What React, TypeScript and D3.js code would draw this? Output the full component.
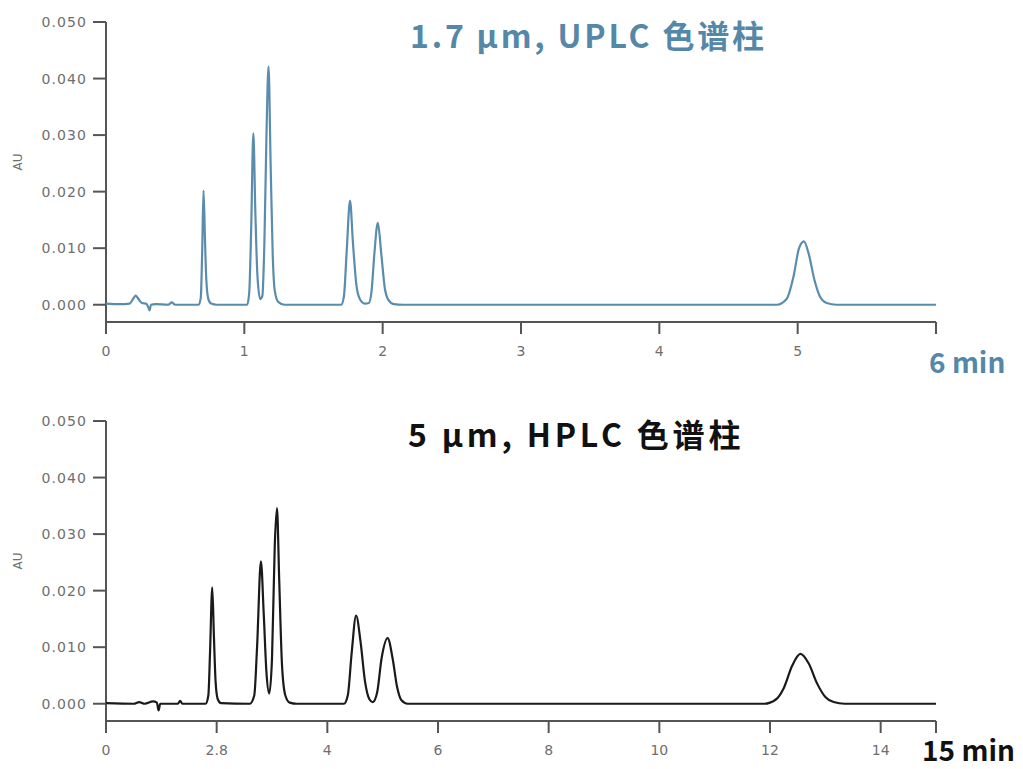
import React from 'react'
import * as d3 from 'd3'

// UPLC trace (min, AU)
const uplcTrace: [number, number][] = [
    [0.0, 0.0002], [0.1, 0.0001], [0.17, 0.0002], [0.2, 0.0012], [0.215, 0.0016],
    [0.235, 0.001], [0.26, 0.0003], [0.29, 0.0002], [0.305, -0.0004], [0.315, -0.001],
    [0.325, 0.0], [0.36, 0.0001], [0.45, 0.0], [0.475, 0.0004], [0.5, 0.0],
    [0.67, 0.0], [0.685, 0.0012], [0.695, 0.009], [0.705, 0.0202], [0.715, 0.012],
    [0.725, 0.0045], [0.74, 0.001], [0.76, 0.0002], [0.8, 0.0],
    [1.02, 0.0], [1.035, 0.002], [1.05, 0.014], [1.065, 0.0303], [1.08, 0.016],
    [1.095, 0.005], [1.115, 0.001], [1.13, 0.0015], [1.145, 0.011], [1.16, 0.03],
    [1.175, 0.0421], [1.19, 0.025], [1.205, 0.009], [1.22, 0.0025], [1.245, 0.0005],
    [1.29, 0.0], [1.7, 0.0], [1.72, 0.0015], [1.74, 0.0095], [1.764, 0.0184],
    [1.785, 0.011], [1.81, 0.0035], [1.835, 0.001], [1.87, 0.0002], [1.9, 0.0003],
    [1.92, 0.0025], [1.94, 0.009], [1.965, 0.0145], [1.99, 0.009], [2.015, 0.003],
    [2.04, 0.0009], [2.08, 0.0001], [2.15, 0.0], [4.85, 0.0], [4.92, 0.001],
    [4.97, 0.005], [5.01, 0.01], [5.045, 0.0112], [5.08, 0.009], [5.12, 0.0045],
    [5.16, 0.0015], [5.21, 0.0003], [5.28, 0.0], [6.0, 0.0],
]

// HPLC trace (min, AU)
const hplcTrace: [number, number][] = [
    [0.0, 0.0001], [0.5, 0.0], [0.6, 0.0003], [0.7, 0.0], [0.85, 0.0004],
    [0.92, 0.0002], [0.95, -0.0012], [0.98, 0.0], [1.3, 0.0], [1.34, 0.0005],
    [1.38, 0.0], [1.8, 0.0], [1.85, 0.0015], [1.88, 0.009], [1.92, 0.0206],
    [1.95, 0.012], [1.98, 0.004], [2.02, 0.0008], [2.08, 0.0001], [2.6, 0.0],
    [2.68, 0.0015], [2.73, 0.01], [2.8, 0.0252], [2.85, 0.016], [2.9, 0.0055],
    [2.95, 0.0018], [3.0, 0.008], [3.05, 0.028], [3.09, 0.0346], [3.13, 0.022],
    [3.18, 0.007], [3.24, 0.0015], [3.32, 0.0002], [3.45, 0.0], [4.3, 0.0],
    [4.37, 0.0015], [4.44, 0.009], [4.52, 0.0156], [4.6, 0.011], [4.68, 0.004],
    [4.76, 0.0008], [4.82, 0.0003], [4.9, 0.002], [4.98, 0.008], [5.09, 0.0116],
    [5.18, 0.008], [5.26, 0.003], [5.34, 0.0006], [5.45, 0.0], [11.9, 0.0],
    [12.1, 0.0007], [12.25, 0.0028], [12.4, 0.0067], [12.55, 0.0088], [12.7, 0.0071],
    [12.85, 0.0036], [13.0, 0.0012], [13.15, 0.0003], [13.35, 0.0], [15.0, 0.0],
]

const auTicks = [0, 0.01, 0.02, 0.03, 0.04, 0.05]
const uplcTicks = [0, 1, 2, 3, 4, 5, 6]
const uplcTickLabels = ['0', '1', '2', '3', '4', '5', '']
const hplcTicks = [0, 2, 4, 6, 8, 10, 12, 14, 15]
const hplcTickLabels = ['0', '2.8', '4', '6', '8', '10', '12', '14', '']

const axisColor = '#555'
const labelColor = '#6e6e6e'
const tickFont = "'DejaVu Sans', sans-serif"
const titleFont = "'Noto Sans CJK SC', sans-serif"

interface PanelProps {
    oy: number
    trace: [number, number][]
    xMax: number
    ticks: number[]
    tickLabels: string[]
    color: string
    textColor: string
    title: string
    titleX: number
    titleSpacing: number
    endLabel: string
    endX: number
    endY: number
    endSize: number
}

const Panel: React.FC<PanelProps> = ({
    oy, trace, xMax, ticks, tickLabels, color, textColor, title, titleX, titleSpacing, endLabel, endX, endY, endSize,
}) => {
    const x = d3.scaleLinear().domain([0, xMax]).range([106, 936])
    const y = d3.scaleLinear().domain([-0.005, 0.05]).range([oy + 333, oy + 22])
    const axisY = oy + 322

    const line = d3
        .line<[number, number]>()
        .x((d) => x(d[0]))
        .y((d) => y(d[1]))
        .curve(d3.curveMonotoneX)

    const fmt = d3.format('.3f')

    return (
        <g>
            {/* y axis */}
            <line x1={106} x2={106} y1={y(0.05)} y2={y(-0.005)} stroke={axisColor} strokeWidth={2} />
            {auTicks.map((t) => (
                <g key={t}>
                    <line x1={93} x2={106} y1={y(t)} y2={y(t)} stroke={axisColor} strokeWidth={2} />
                    <text
                        x={87}
                        y={y(t)}
                        dy="0.36em"
                        textAnchor="end"
                        fontFamily={tickFont}
                        fontSize={14}
                        letterSpacing={1.1}
                        fill={labelColor}
                    >
                        {fmt(t)}
                    </text>
                </g>
            ))}
            <text
                transform={`translate(22,${oy + 162}) rotate(-90)`}
                textAnchor="middle"
                fontFamily={tickFont}
                fontSize={12}
                fill={labelColor}
            >
                AU
            </text>

            {/* x axis */}
            <line x1={106} x2={936} y1={axisY} y2={axisY} stroke={axisColor} strokeWidth={2} />
            {ticks.map((t, i) => (
                <g key={t}>
                    <line x1={x(t)} x2={x(t)} y1={axisY} y2={axisY + 12} stroke={axisColor} strokeWidth={2} />
                    <text
                        x={x(t)}
                        y={axisY + 34}
                        textAnchor="middle"
                        fontFamily={tickFont}
                        fontSize={14}
                        fill={labelColor}
                    >
                        {tickLabels[i]}
                    </text>
                </g>
            ))}
            <text x={endX} y={endY} fontFamily={titleFont} fontWeight={700} fontSize={endSize} fill={textColor}>
                {endLabel}
            </text>

            {/* trace */}
            <path d={line(trace) || ''} fill="none" stroke={color} strokeWidth={2.2} strokeLinejoin="round" />

            <text
                x={titleX}
                y={oy + 48}
                fontFamily={titleFont}
                fontWeight={700}
                fontSize={32}
                letterSpacing={titleSpacing}
                fill={textColor}
            >
                {title}
            </text>
        </g>
    )
}

const App: React.FC = () => {
    return (
        <div style={{ position: 'absolute', left: 0, top: 0 }}>
            <svg width={1023} height={769} style={{ display: 'block', background: '#fff' }}>
                <Panel
                    oy={0}
                    trace={uplcTrace}
                    xMax={6}
                    ticks={uplcTicks}
                    tickLabels={uplcTickLabels}
                    color="#5a8cad"
                    textColor="#5588a8"
                    title="1.7 μm,  UPLC 色谱柱"
                    titleX={410}
                    titleSpacing={2.8}
                    endLabel="6 min"
                    endX={929}
                    endY={373}
                    endSize={28}
                />
                <Panel
                    oy={399}
                    trace={hplcTrace}
                    xMax={15}
                    ticks={hplcTicks}
                    tickLabels={hplcTickLabels}
                    color="#1a1a1a"
                    textColor="#111"
                    title="5 μm,  HPLC 色谱柱"
                    titleX={408}
                    titleSpacing={3.8}
                    endLabel="15 min"
                    endX={922}
                    endY={761}
                    endSize={28}
                />
            </svg>
        </div>
    )
}

export default App
